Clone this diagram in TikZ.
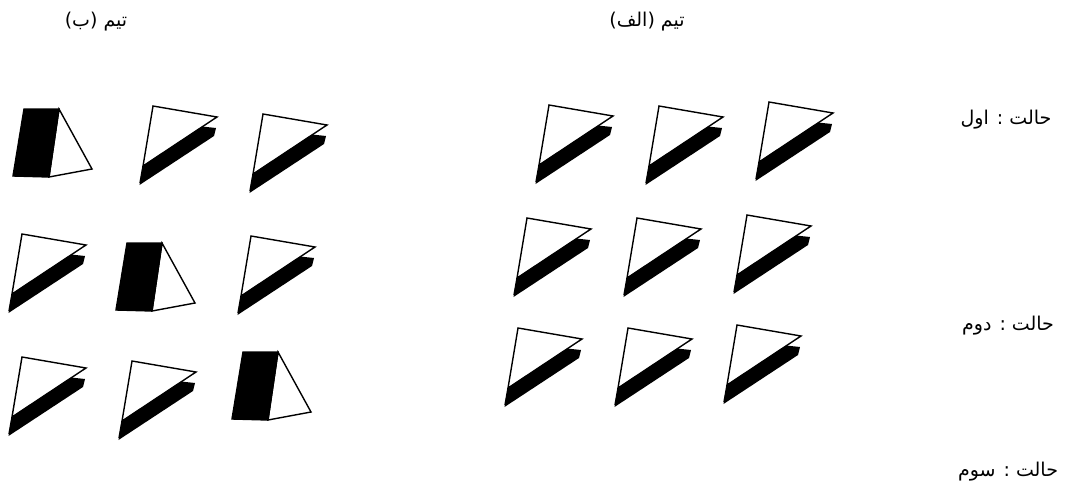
\documentclass[tikz,border=0pt]{standalone}
\usepackage{fontspec}
\newfontfamily\arabicfont[Script=Arabic]{DejaVu Sans}
\TeXXeTstate=1
\tikzset{
  outl/.style={draw=black, line width=1.4pt, line join=miter, miter limit=4},
  lbl/.style={font=\arabicfont\fontsize{19}{22}\selectfont, inner sep=0pt},
  pics/edgeflag/.style={code={
    \fill[black] (-13.5,79) -- (-10,60) -- (49,20.5) -- (63,22) -- (61,30) -- cycle;
    \draw[outl] (0,0) -- (64,11) -- (-10,60) -- cycle;
    \draw[outl] (-10,60) -- (-13,77);
  }},
  pics/sideflag/.style={code={
    \filldraw[outl, fill=black] (-35,0) -- (0,0) -- (-10,68) -- (-46,67) -- cycle;
    \draw[outl] (0,0) -- (33,60) -- (-10,68) -- cycle;
  }}
}
\begin{document}
\begin{tikzpicture}[x=1pt,y=-1pt]
\useasboundingbox[fill=white] (0,0) rectangle (1080,501);
% team B (left)
\pic (b11) at (59,109) {sideflag};
\pic (b12) at (153,106) {edgeflag};
\pic (b13) at (263,114) {edgeflag};
\pic (b21) at (22,234) {edgeflag};
\pic (b22) at (162,243) {sideflag};
\pic (b23) at (251,236) {edgeflag};
\pic (b31) at (22,357) {edgeflag};
\pic (b32) at (132,361) {edgeflag};
\pic (b33) at (278,352) {sideflag};
% team A (right)
\pic (a11) at (549,105) {edgeflag};
\pic (a12) at (659,106) {edgeflag};
\pic (a13) at (769,102) {edgeflag};
\pic (a21) at (527,218) {edgeflag};
\pic (a22) at (637,218) {edgeflag};
\pic (a23) at (747,215) {edgeflag};
\pic (a31) at (518,328) {edgeflag};
\pic (a32) at (628,328) {edgeflag};
\pic (a33) at (737,325) {edgeflag};
% labels
\node[lbl] (teamB) at (96,22) {\beginR تیم (ب)\endR};
\node[lbl] (teamA) at (647,22) {\beginR تیم (الف)\endR};
\node[lbl] (st1) at (1006,120) {\beginR حالت : اول\endR};
\node[lbl] (st2) at (1008,326) {\beginR حالت : دوم\endR};
\node[lbl] (st3) at (1008,472) {\beginR حالت : سوم\endR};
\end{tikzpicture}
\end{document}
